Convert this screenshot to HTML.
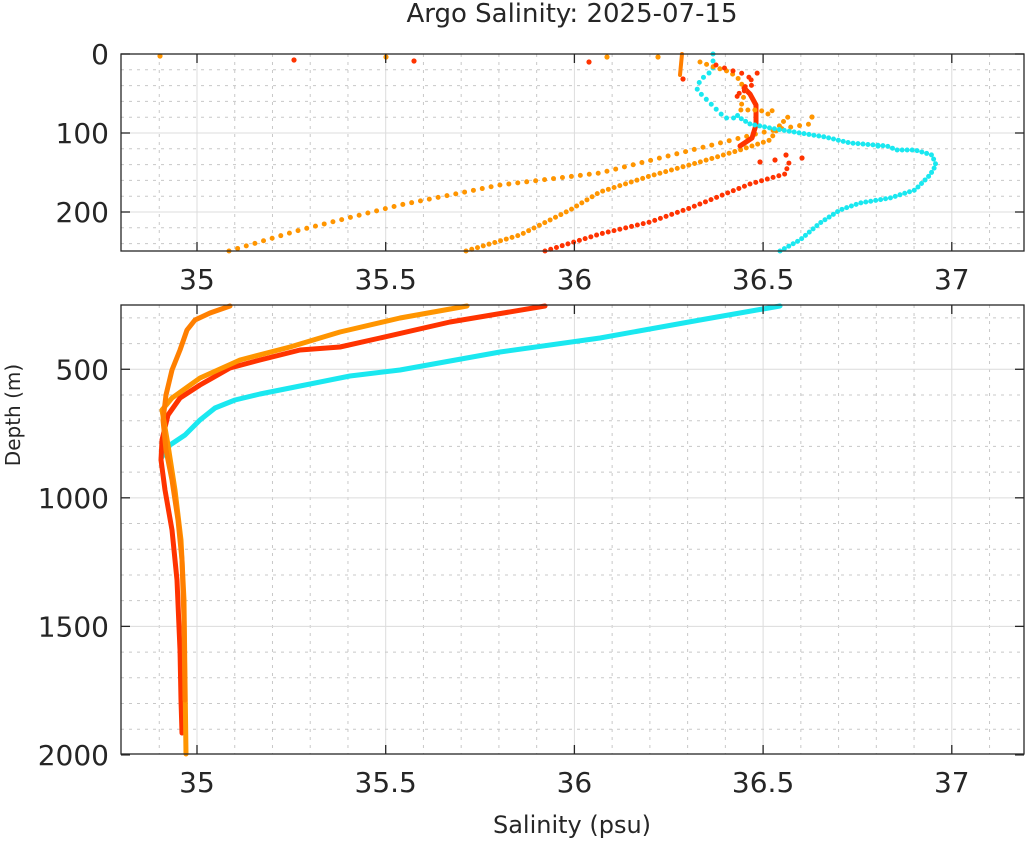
<!DOCTYPE html>
<html><head><meta charset="utf-8"><style>
html,body{margin:0;padding:0;background:#fff;}
svg text{font-family:"DejaVu Sans","Liberation Sans",sans-serif;fill:#262626;}
</style></head><body>
<svg id="s" width="1029" height="841" xmlns="http://www.w3.org/2000/svg">
<rect width="1029" height="841" fill="#fff"/>
<g id="grid"></g>
<g id="data" fill="none" stroke-linecap="round" stroke-linejoin="round"></g>
<g id="ax"></g>
<text x="572" y="22" font-size="26" text-anchor="middle">Argo Salinity: 2025-07-15</text>
<text x="572" y="833" font-size="24" text-anchor="middle">Salinity (psu)</text>
<text transform="translate(20,415) rotate(-90)" font-size="20" text-anchor="middle">Depth (m)</text>
</svg>
<script>
const NS="http://www.w3.org/2000/svg";
function el(p,t,a,txt){const e=document.createElementNS(NS,t);for(const k in a)e.setAttribute(k,a[k]);if(txt!==undefined)e.textContent=txt;document.getElementById(p).appendChild(e);return e;}
const X=s=>197+(s-35)*377.4;
const L=121,R=1024;
const panels=[{t:54,b:251,Y:d=>54+d*0.79,minor:20,major:[0,100,200],dmin:0,dmax:250},
{t:305,b:754,Y:d=>305+(d-250)*0.2571,minor:100,major:[500,1000,1500,2000],dmin:300,dmax:2000}];
panels.forEach(p=>{
 for(let s=34.9;s<37.25;s+=0.1){const x=X(s);if(x<=L||x>=R)continue;
  const maj=Math.abs(s*2-Math.round(s*2))<0.01;
  el('grid','line',{x1:x,x2:x,y1:p.t,y2:p.b,stroke:maj?'#dcdcdc':'#c8c8c8','stroke-width':1,'stroke-dasharray':maj?'':'3 5'});}
 for(let d=p.dmin;d<=p.dmax;d+=p.minor){const y=p.Y(d);if(y<=p.t||y>=p.b)continue;
  const maj=p.major.includes(d);
  el('grid','line',{x1:L,x2:R,y1:y,y2:y,stroke:maj?'#dcdcdc':'#c8c8c8','stroke-width':1,'stroke-dasharray':maj?'':'3 5'});}
 el('ax','rect',{x:L,y:p.t,width:R-L,height:p.b-p.t,fill:'none',stroke:'#262626','stroke-width':1.3});
 [35,35.5,36,36.5,37].forEach(s=>{const x=X(s);
  el('ax','line',{x1:x,x2:x,y1:p.t,y2:p.t+9,stroke:'#262626','stroke-width':1.3});
  el('ax','line',{x1:x,x2:x,y1:p.b,y2:p.b-9,stroke:'#262626','stroke-width':1.3});
  el('ax','text',{x:x,y:p.b+38,'font-size':28,'text-anchor':'middle'},String(s));});
 p.major.forEach(d=>{const y=p.Y(d);
  el('ax','line',{x1:L,x2:L+9,y1:y,y2:y,stroke:'#262626','stroke-width':1.3});
  el('ax','line',{x1:R,x2:R-9,y1:y,y2:y,stroke:'#262626','stroke-width':1.3});
  el('ax','text',{x:L-12,y:y+10,'font-size':28,'text-anchor':'end'},String(d));});
});
const CY='#1ae8f0',RD='#ff3300',OR='#ff9500',DO='#ff7f00';
function dots(c,pts,w,gap){el('data','polyline',{points:pts,stroke:c,'stroke-width':w,'stroke-dasharray':'0 '+gap});}
function line(c,pts,w){el('data','polyline',{points:pts,stroke:c,'stroke-width':w});}
function pt(c,x,y,r){el('data','circle',{cx:x,cy:y,r:r||2.6,fill:c});}
// top panel
dots(OR,"229,251 300,230 400,205 500,185 600,173 700,148 760,133 785,128 810,124",5,9);
dots(OR,"466,251 520,235 570,210 600,192 650,176 700,162 740,150 770,140 780,125 790,115",5,6);
dots(RD,"545,251 600,234 650,222 690,208 720,196 750,184 785,174 790,160",5,6);
line(RD,"740,146 752,138 756,125 756,105 750,94 744,88",5);
dots(CY,"780,251 800,240 820,223 840,210 860,203 890,198 915,190 930,175 936,165 932,155 915,150 897,150 887,146 850,143 825,137 800,133 770,128 750,124 740,118 735,113",5,5);
dots(CY,"713,54 713,70 700,80 697,90 705,98 711,104 725,118 735,118",5,7);
line(DO,"682,54 680,75",4);
dots(OR,"700,62 711,66 730,72 740,80 745,92 740,110 760,110 770,115 775,105",5,7);
dots(RD,"716,65 730,70 748,75 752,85 735,98 760,70",5,9);
pt(OR,160,56);pt(RD,294,60);pt(OR,386,57);pt(RD,414,61);pt(RD,589,62);pt(OR,607,57);pt(OR,658,57);pt(RD,683,79);pt(OR,812,117);pt(CY,878,146);pt(RD,802,158);pt(RD,786,155);pt(RD,760,162);pt(RD,775,160);
// bottom panel
line(CY,"780,306 700,320 600,338 500,352 400,370 350,376 300,386 260,394 235,400 215,408 200,420 185,435 170,445 162,457",5);
line(RD,"545,306 450,322 380,338 340,347 300,350 260,360 230,368 200,385 180,398 168,415 162,440 161,460 165,490 172,530 177,580 180,650 181,700 182,733",5);
line(OR,"467,306 400,318 340,332 290,347 240,360 200,378 172,398 162,410 168,445 175,490 181,540 184,600 185,680 186,754",5);
line(DO,"230,306 210,313 195,320 187,330 180,350 172,370 166,395 163,420 166,450 172,480 178,520 182,560 184,620 185,700",5);
</script>
</body></html>
